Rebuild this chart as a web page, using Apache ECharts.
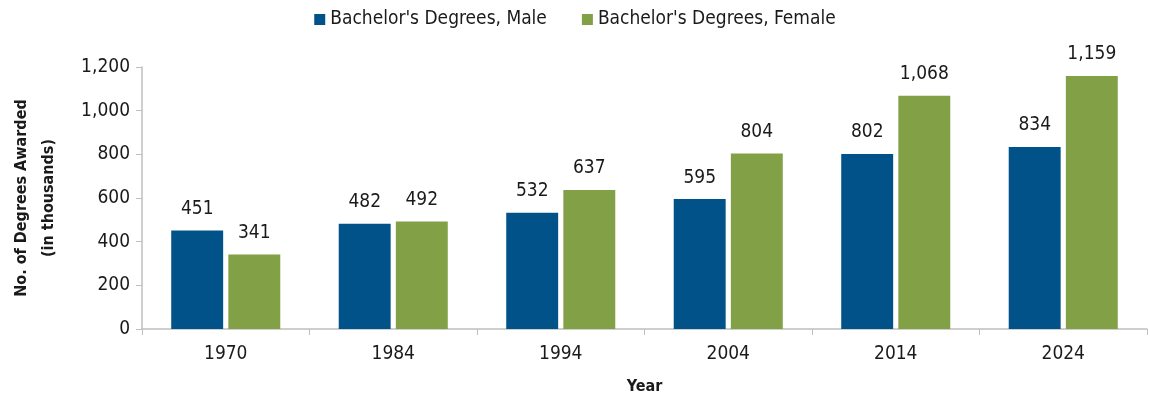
<!DOCTYPE html>
<html>
<head>
<meta charset="utf-8">
<script src="https://cdn.jsdelivr.net/npm/echarts@6/dist/echarts.min.js"></script>
<style>
  html, body { margin: 0; padding: 0; background: #fff; }
  #chart { width: 1150px; height: 400px; }
</style>
</head>
<body>
<div id="chart"></div>
<script>
const years = ['1970', '1984', '1994', '2004', '2014', '2024'];
const maleValues = [451, 482, 532, 595, 802, 834];
const femaleValues = [341, 492, 637, 804, 1068, 1159];
const seriesNames = ["Bachelor's Degrees, Male", "Bachelor's Degrees, Female"];

const FONT = '"Liberation Sans Narrow", "DejaVu Sans Condensed", "Roboto Condensed", sans-serif';
const TEXT = '#1a1a1a';

const labelCfg = {
    show: true,
    position: 'top',
    distance: 12,
    fontFamily: FONT,
    fontSize: 19,
    color: TEXT,
    formatter: p => p.value.toLocaleString('en-US')
};

const chart = echarts.init(document.getElementById('chart'));
chart.setOption({
    animation: false,
    textStyle: { fontFamily: FONT },
    legend: {
        top: 5,
        left: 'center',
        itemWidth: 11,
        itemHeight: 11,
        itemGap: 35,
        icon: 'rect',
        textStyle: { fontFamily: FONT, fontSize: 19, color: TEXT }
    },
    grid: { left: 142, right: 3, top: 67, bottom: 71, outerBoundsMode: 'none' },
    xAxis: {
        type: 'category',
        data: years,
        name: 'Year',
        nameLocation: 'middle',
        nameGap: 50,
        nameTextStyle: { fontFamily: FONT, fontSize: 16, fontWeight: 'bold', color: TEXT },
        axisLine: { lineStyle: { color: '#bfbfbf', width: 1.5 } },
        axisTick: { show: true, length: 6, lineStyle: { color: '#bfbfbf' } },
        axisLabel: { fontFamily: FONT, fontSize: 19, color: TEXT, margin: 16 }
    },
    yAxis: {
        type: 'value',
        min: 0,
        max: 1200,
        interval: 200,
        name: 'No. of Degrees Awarded\n(in thousands)',
        nameLocation: 'middle',
        nameGap: 80,
        nameTextStyle: { fontFamily: FONT, fontSize: 16, fontWeight: 'bold', color: TEXT, lineHeight: 27 },
        axisLine: { show: true, lineStyle: { color: '#bfbfbf', width: 1.5 } },
        axisTick: { show: true, length: 6, lineStyle: { color: '#bfbfbf' } },
        splitLine: { show: false },
        axisLabel: {
            fontFamily: FONT, fontSize: 19, color: TEXT, margin: 12,
            formatter: v => v.toLocaleString('en-US')
        }
    },
    series: [
        {
            name: seriesNames[0],
            type: 'bar',
            data: maleValues,
            barWidth: '31%',
            barGap: '10%',
            itemStyle: { color: '#005288' },
            label: labelCfg
        },
        {
            name: seriesNames[1],
            type: 'bar',
            data: femaleValues,
            barWidth: '31%',
            itemStyle: { color: '#82a046' },
            label: labelCfg
        }
    ]
});
</script>
</body>
</html>
